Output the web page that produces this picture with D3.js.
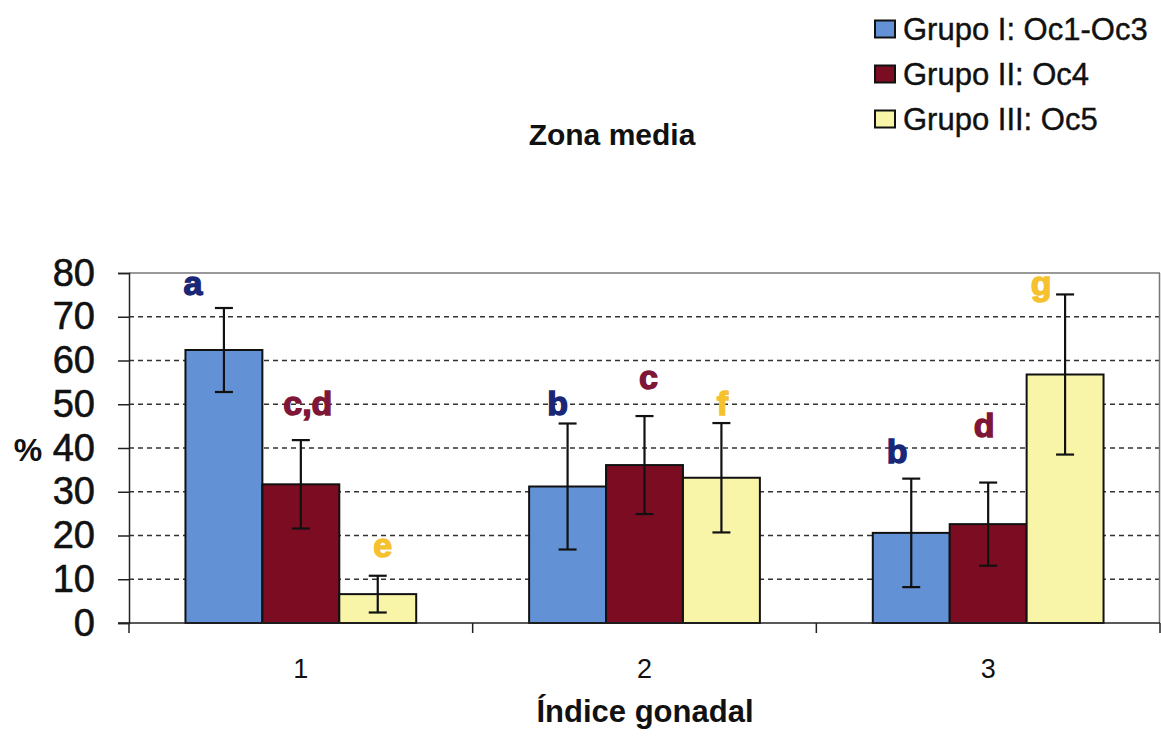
<!DOCTYPE html>
<html>
<head>
<meta charset="utf-8">
<script src="https://cdn.jsdelivr.net/npm/d3@7"></script>
<style>
  html, body { margin: 0; padding: 0; background: #fff; }
  svg { display: block; font-family: Arial, "Liberation Sans", sans-serif; }
</style>
</head>
<body>
<svg id="chart" width="1161" height="736"></svg>
<script>
// Gonadal index categories and the three oocyte groups
const categories = ["1", "2", "3"];
const seriesNames = ["Grupo I: Oc1-Oc3", "Grupo II: Oc4", "Grupo III: Oc5"];

// Mean percentage per group, one value per category
const grupoI   = [62.4, 31.2, 20.6];
const grupoII  = [31.7, 36.1, 22.6];
const grupoIII = [6.6, 33.2, 56.8];

// Error (± half-length) per group
const errI   = [9.6, 14.4, 12.4];
const errII  = [10.1, 11.2, 9.5];
const errIII = [4.2, 12.5, 18.3];

const yTicks = [0, 10, 20, 30, 40, 50, 60, 70, 80];

// Significance letters: category, series index, text, baseline value
const letterText  = ["a", "c,d", "e", "b", "c", "f", "b", "d", "g"];
const letterCat   = ["1", "1", "1", "2", "2", "2", "3", "3", "3"];
const letterSer   = [0, 1, 2, 0, 1, 2, 0, 1, 2];
const letterValue = [75, 47.5, 15, 47.5, 53.5, 47.5, 36.5, 42.5, 75];

// ---- layout ----
const fills = ["#6391d6", "#7c0c22", "#f8f5a9"];
const letterColors = ["#1a2776", "#7e1638", "#f6c12e"];
const letterDx = [-31, 7, 5, -10, 4, 1, -14, -4, -24];

const plot = { left: 129, right: 1160, top: 273, bottom: 623 };

const svg = d3.select("#chart");

const x0 = d3.scaleBand()
  .domain(categories)
  .range([plot.left, plot.right])
  .paddingInner(0).paddingOuter(0);

const x1 = d3.scaleBand()
  .domain(d3.range(seriesNames.length))
  .range([0, x0.bandwidth()])
  .paddingInner(0).paddingOuter(0.734);

const y = d3.scaleLinear().domain([0, 80]).range([plot.bottom, plot.top]);

const seriesVals = [grupoI, grupoII, grupoIII];
const seriesErr = [errI, errII, errIII];

const rows = [];
seriesVals.forEach((vals, s) => {
  vals.forEach((v, i) => rows.push({ cat: categories[i], s, v, e: seriesErr[s][i] }));
});

// Horizontal gridlines (dashed) and plot frame
const grid = svg.append("g");
grid.selectAll("line.grid")
  .data(yTicks.filter(t => t > 0 && t < 80))
  .join("line")
  .attr("class", "grid")
  .attr("x1", plot.left).attr("x2", plot.right)
  .attr("y1", d => y(d)).attr("y2", d => y(d))
  .attr("stroke", "#333").attr("stroke-width", 1.5)
  .attr("stroke-dasharray", "5,4");

grid.append("line")
  .attr("x1", plot.left).attr("x2", plot.right)
  .attr("y1", y(80)).attr("y2", y(80))
  .attr("stroke", "#777").attr("stroke-width", 1.5);
grid.append("line")
  .attr("x1", plot.right - 0.5).attr("x2", plot.right - 0.5)
  .attr("y1", y(80)).attr("y2", y(0))
  .attr("stroke", "#777").attr("stroke-width", 1.5);

// Bars
svg.append("g").selectAll("rect")
  .data(rows)
  .join("rect")
  .attr("x", d => x0(d.cat) + x1(d.s))
  .attr("y", d => y(d.v))
  .attr("width", x1.bandwidth())
  .attr("height", d => y(0) - y(d.v))
  .attr("fill", d => fills[d.s])
  .attr("stroke", "#111").attr("stroke-width", 2);

// Error bars
const eb = svg.append("g").attr("stroke", "#111").attr("stroke-width", 2.2);
const cap = 9;
rows.forEach(d => {
  const cx = x0(d.cat) + x1(d.s) + x1.bandwidth() / 2;
  const yt = y(d.v + d.e), yb = y(d.v - d.e);
  eb.append("line").attr("x1", cx).attr("x2", cx).attr("y1", yt).attr("y2", yb);
  eb.append("line").attr("x1", cx - cap).attr("x2", cx + cap).attr("y1", yt).attr("y2", yt);
  eb.append("line").attr("x1", cx - cap).attr("x2", cx + cap).attr("y1", yb).attr("y2", yb);
});

// Y axis
const yAxis = svg.append("g")
  .attr("transform", `translate(${plot.left},0)`)
  .call(d3.axisLeft(y).tickValues(yTicks).tickSize(11).tickPadding(23));
yAxis.select(".domain").attr("stroke", "#222").attr("stroke-width", 1.5);
yAxis.selectAll(".tick line").attr("stroke", "#222").attr("stroke-width", 1.5);
yAxis.selectAll(".tick text")
  .attr("font-size", 38).attr("fill", "#111")
  .attr("stroke", "#111").attr("stroke-width", 0.6)
  .attr("font-family", "Arial, 'Liberation Sans', sans-serif");

// X axis with ticks between categories
const xAxis = svg.append("g")
  .attr("transform", `translate(0,${plot.bottom})`);
xAxis.append("line")
  .attr("x1", plot.left - 11).attr("x2", plot.right)
  .attr("stroke", "#222").attr("stroke-width", 1.5);
const boundaries = categories.map(c => x0(c)).concat([x0(categories[categories.length - 1]) + x0.bandwidth()]);
xAxis.selectAll("line.xt")
  .data(boundaries)
  .join("line")
  .attr("class", "xt")
  .attr("x1", d => d).attr("x2", d => d)
  .attr("y1", 0).attr("y2", 10)
  .attr("stroke", "#222").attr("stroke-width", 1.5);
xAxis.selectAll("text")
  .data(categories)
  .join("text")
  .attr("x", d => x0(d) + x0.bandwidth() / 2)
  .attr("y", 55)
  .attr("text-anchor", "middle")
  .attr("font-size", 27).attr("fill", "#111")
  .text(d => d);

// Axis titles and chart title
svg.append("text")
  .attr("x", 645).attr("y", 722)
  .attr("text-anchor", "middle")
  .attr("font-size", 31).attr("font-weight", "bold").attr("fill", "#111")
  .text("Índice gonadal");

svg.append("text")
  .attr("x", 28).attr("y", 461)
  .attr("text-anchor", "middle")
  .attr("font-size", 32).attr("font-weight", "bold").attr("fill", "#111")
  .text("%");

svg.append("text")
  .attr("x", 612).attr("y", 145)
  .attr("text-anchor", "middle")
  .attr("font-size", 30).attr("font-weight", "bold").attr("fill", "#111")
  .text("Zona media");

// Significance letters
svg.append("g").selectAll("text")
  .data(letterText.map((t, i) => ({ t, i })))
  .join("text")
  .attr("x", d => x0(letterCat[d.i]) + x1(letterSer[d.i]) + x1.bandwidth() / 2 + letterDx[d.i])
  .attr("y", d => y(letterValue[d.i]))
  .attr("text-anchor", "middle")
  .attr("font-size", 34).attr("font-weight", "bold")
  .attr("fill", d => letterColors[letterSer[d.i]])
  .attr("stroke", d => letterColors[letterSer[d.i]]).attr("stroke-width", 1.4)
  .text(d => d.t);

// Legend
const legend = svg.append("g").attr("transform", "translate(875,0)");
seriesNames.forEach((name, i) => {
  const cy = 29 + i * 45;
  legend.append("rect")
    .attr("x", 0).attr("y", cy - 8.5)
    .attr("width", 20).attr("height", 17)
    .attr("fill", fills[i]).attr("stroke", "#111").attr("stroke-width", 2);
  legend.append("text")
    .attr("x", 28).attr("y", cy + 11)
    .attr("font-size", 31).attr("fill", "#111")
    .attr("stroke", "#111").attr("stroke-width", 0.4)
    .text(name);
});
</script>
</body>
</html>
